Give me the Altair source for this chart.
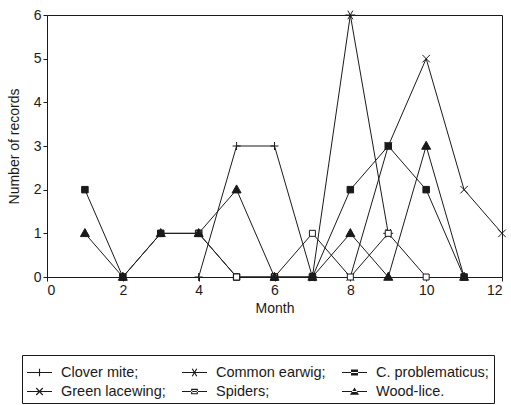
import math
import altair as alt
import pandas as pd

series_names = ["Clover mite", "Common earwig", "C. problematicus",
                "Green lacewing", "Spiders", "Wood-lice"]

clover_months = [4, 5, 6, 7]
clover_vals = [0, 3, 3, 0]
earwig_months = [7, 8, 9]
earwig_vals = [0, 6, 1]
cprob_months = [1, 2, 3, 4, 5, 6, 7, 8, 9, 10, 11]
cprob_vals = [2, 0, 1, 1, 0, 0, 0, 2, 3, 2, 0]
lacewing_months = [8, 9, 10, 11, 12]
lacewing_vals = [0, 3, 5, 2, 1]
spiders_months = [4, 5, 6, 7, 8, 9, 10]
spiders_vals = [1, 0, 0, 1, 0, 1, 0]
woodlice_months = [1, 2, 3, 4, 5, 6, 7, 8, 9, 10, 11]
woodlice_vals = [1, 0, 1, 1, 2, 0, 0, 1, 0, 3, 0]

x_ticks = [0, 2, 4, 6, 8, 10, 12]
y_ticks = [0, 1, 2, 3, 4, 5, 6]

# drawing order of markers (later on top)
draw_order = [
    ("Clover mite", clover_months, clover_vals),
    ("Common earwig", earwig_months, earwig_vals),
    ("Green lacewing", lacewing_months, lacewing_vals),
    ("C. problematicus", cprob_months, cprob_vals),
    ("Spiders", spiders_months, spiders_vals),
    ("Wood-lice", woodlice_months, woodlice_vals),
]
rows = []
for name, ms, vs in draw_order:
    for m, v in zip(ms, vs):
        rows.append({"series": name, "month": m, "records": v})
df = pd.DataFrame(rows)

FONT = "Liberation Sans"
INK = "#1a1a1a"

marker_paths = [
    "M-0.8,0H0.8M0,-0.8V0.8",                                   # plus
    "M-1,0H1M-0.5,-0.87L0.5,0.87M0.5,-0.87L-0.5,0.87",          # asterisk
    "M-0.65,-0.65H0.65V0.65H-0.65Z",                            # filled square
    "M-0.75,-0.75L0.75,0.75M0.75,-0.75L-0.75,0.75",             # x
    "M-0.6,-0.6H0.6V0.6H-0.6Z",                                 # open square
    "M-0.9,0.65L0,-0.95L0.9,0.65Z",                             # triangle
]
fills = [INK, INK, INK, INK, "white", INK]


# legend glyphs: filled outlines only (thin bars for strokes)
T = 0.045


def bar(x1, y1, x2, y2, t=T):
    dx, dy = x2 - x1, y2 - y1
    n = math.hypot(dx, dy)
    px, py = -dy / n * t, dx / n * t
    pts = [(x1 + px, y1 + py), (x2 + px, y2 + py), (x2 - px, y2 - py), (x1 - px, y1 - py)]
    return "M" + "L".join(f"{a:.3f},{b:.3f}" for a, b in pts) + "Z"


hline = bar(-1, 0, 1, 0)
legend_paths = [
    hline + bar(0, -0.3, 0, 0.3),
    hline + bar(-0.18, -0.3, 0.18, 0.3) + bar(0.18, -0.3, -0.18, 0.3),
    hline + "M-0.28,-0.24H0.28V0.24H-0.28Z",
    hline + bar(-0.26, -0.28, 0.26, 0.28) + bar(0.26, -0.28, -0.26, 0.28),
    hline + "M-0.27,-0.22H0.27V0.22H-0.27Z" + "M-0.18,-0.13V0.13H0.18V-0.13Z",
    hline + "M-0.36,0.26L0,-0.32L0.36,0.26Z",
]
legend_fills = [INK] * 6

xenc = alt.X("month:Q", scale=alt.Scale(domain=[0, 12], nice=False),
             axis=alt.Axis(values=x_ticks, title="Month", labelAngle=0))
yenc = alt.Y("records:Q", scale=alt.Scale(domain=[0, 6], nice=False),
             axis=alt.Axis(values=y_ticks, title="Number of records"))

lines = alt.Chart(df).mark_line(color=INK, strokeWidth=1).encode(
    x=xenc, y=yenc, detail="series:N", order="month:Q")

points = alt.Chart(df).mark_point(filled=True, strokeWidth=1, opacity=1, size=100).encode(
    x="month:Q", y="records:Q",
    shape=alt.Shape("series:N", scale=alt.Scale(domain=series_names, range=marker_paths), legend=None),
    fill=alt.Fill("series:N", scale=alt.Scale(domain=series_names, range=fills), legend=None),
    stroke=alt.value(INK),
)

label_expr = "datum.label == 'Wood-lice' ? 'Wood-lice.' : datum.label + ';'"
leg = alt.Legend(
    title=None, orient="none", legendX=-25, legendY=340, columns=3,
    direction="horizontal",
    labelExpr=label_expr, labelFont=FONT, labelFontSize=14.5, labelColor=INK,
    symbolSize=625, symbolOpacity=1, symbolStrokeWidth=0,
    strokeColor=INK, padding=5, columnPadding=16, rowPadding=-2, labelOffset=9,
    labelLimit=300,
)
legend_layer = alt.Chart(df).mark_point(filled=True, opacity=0, color=INK).encode(
    x="month:Q", y="records:Q",
    shape=alt.Shape("series:N", scale=alt.Scale(domain=series_names, range=legend_paths), legend=leg),
    fill=alt.Fill("series:N", scale=alt.Scale(domain=series_names, range=legend_fills), legend=leg),
)

chart = alt.layer(lines, points, legend_layer).resolve_scale(
    shape="independent", fill="independent"
).properties(
    width=455, height=262,
    autosize=alt.AutoSizeParams(type="none"),
    padding={"left": 47, "top": 15, "right": 9, "bottom": 128},
    background="white",
).configure_view(
    stroke=INK, strokeWidth=1
).configure_axis(
    grid=False, domainColor=INK, tickColor=INK, tickSize=4,
    labelFont=FONT, labelFontSize=14, labelColor=INK, labelPadding=2,
    titleFont=FONT, titleFontSize=14, titleColor=INK, titleFontWeight="normal",
).configure_axisY(titlePadding=12).configure_axisX(titlePadding=4)

chart.save("out.html", embed_options={"renderer": "svg", "actions": False})
